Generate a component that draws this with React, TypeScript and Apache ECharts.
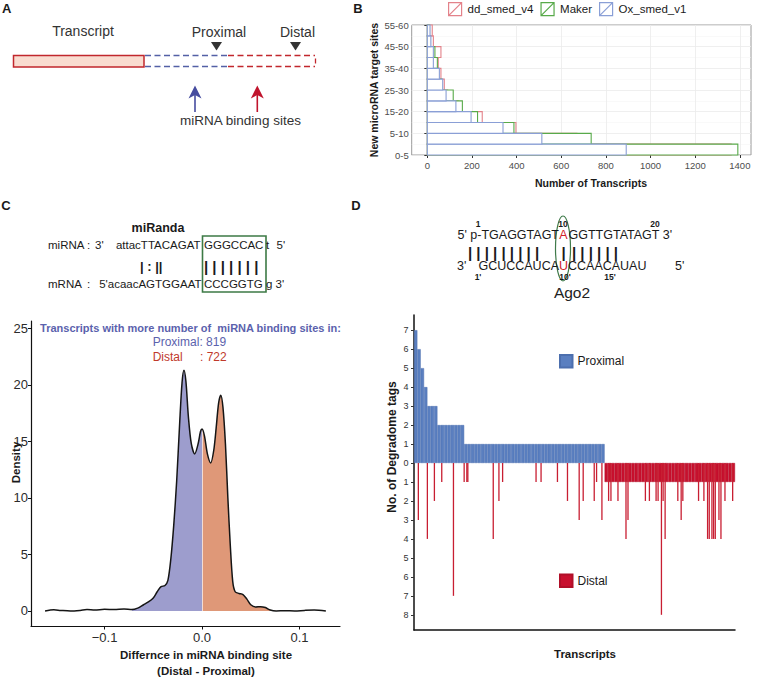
import React, { useEffect, useRef } from 'react';
import * as echarts from 'echarts';

const FONT = '"Liberation Sans", Arial, Helvetica, sans-serif';

// ---------- Panel B data ----------
const binLabels = ['0-5', '5-10', '15-20', '25-30', '35-40', '45-50', '55-60'];
const binIndex = [0, 1, 2, 3, 4, 5, 6, 7, 8, 9, 10, 11];
const ddSmedV4 = [1361, 670, 397, 246, 139, 91, 76, 61, 49, 61, 27, 22];
const maker = [1391, 734, 388, 225, 157, 116, 65, 50, 45, 34, 14, 10];
const oxSmedV1 = [891, 513, 339, 196, 128, 84, 69, 54, 27, 27, 16, 12];
const transcriptTicks = [0, 200, 400, 600, 800, 1000, 1200, 1400];

// ---------- Panel C data ----------
const densityX = [-0.161, -0.152, -0.145, -0.135, -0.125, -0.118, -0.11, -0.1, -0.09, -0.08, -0.072, -0.066, -0.06, -0.055, -0.05, -0.046, -0.042, -0.038, -0.035, -0.032, -0.029, -0.026, -0.023, -0.0205, -0.0185, -0.0165, -0.014, -0.011, -0.0075, -0.004, -0.0015, 0, 0.0025, 0.0055, 0.0089, 0.012, 0.0145, 0.017, 0.0192, 0.0215, 0.024, 0.0265, 0.029, 0.0315, 0.034, 0.038, 0.042, 0.046, 0.05, 0.055, 0.06, 0.065, 0.07, 0.076, 0.085, 0.095, 0.105, 0.115, 0.127];
const densityY = [0, 0.1, 0.05, 0, 0.05, 0.12, 0.08, 0.15, 0.12, 0.18, 0.12, 0.25, 0.55, 0.8, 1.15, 1.7, 2.15, 2.25, 2.7, 4.6, 7.6, 11.5, 16.5, 20.2, 21.3, 20.3, 17.2, 14.8, 13.9, 14.8, 15.9, 16.1, 15.5, 13.9, 13.1, 14.2, 16.2, 18.4, 19.1, 18.0, 14.8, 10.0, 5.8, 2.6, 1.7, 1.55, 1.45, 1.05, 0.55, 0.35, 0.38, 0.3, 0.08, 0, 0.02, 0, 0.05, 0.08, 0];
const densityTicksX = [-0.1, 0, 0.1];
const densityTicksY = [0, 5, 10, 15, 20, 25];
const proximalFillRange = [-0.072, 0];
const distalFillRange = [0, 0.076];

// ---------- Panel D data ----------
const proximalTags = [
  7, 6, 5, 4, 3, 3, 3, 2, 2, 2, 2, 2, 2, 2, 2,
  1, 1, 1, 1, 1, 1, 1, 1, 1, 1, 1, 1, 1, 1,
  1, 1, 1, 1, 1, 1, 1, 1, 1, 1, 1, 1, 1, 1,
  1, 1, 1, 1, 1, 1, 1, 1, 1, 1, 1, 1, 1, 1,
  0, 0, 0, 0, 0, 0, 0, 0, 0, 0, 0, 0, 0,
  0, 0, 0, 0, 0, 0, 0, 0, 0, 0, 0, 0, 0,
  0, 0, 0, 0, 0, 0, 0, 0, 0, 0, 0, 0, 0,
];
const distalTags = [
  0, 0, 0, 0, 0, 0, 0, 0, 0, 0, 0, 0, 0, 0, 0,
  0, 0, 0, 0, 0, 0, 0, 0, 0, 0, 0, 0, 0, 0,
  0, 0, 0, 0, 0, 0, 0, 0, 0, 0, 0, 0, 0, 0,
  0, 0, 0, 0, 0, 0, 0, 0, 0, 0, 0, 0, 0, 0,
  1, 1, 1, 1, 1, 1, 1, 1, 1, 1, 1, 1, 1,
  1, 1, 1, 1, 1, 1, 1, 1, 1, 1, 1, 1, 1,
  1, 1, 1, 1, 1, 1, 1, 1, 1, 1, 1, 1, 1,
];
const distalSpikePos = [1.3, 4.0, 6.1, 8.3, 11.8, 15.0, 15.8, 16.1, 23.7, 25.4, 26.5, 36.5, 38.0, 42.9, 45.9, 49.4, 50.6, 53.9, 54.6, 56.2,
  58.2, 58.9, 61.0, 63.4, 64.0, 69.2, 70.4, 72.4, 73.0, 74.0, 74.5, 75.1, 78.9, 79.9, 80.4, 85.1, 86.7, 87.8, 88.3, 89.1, 89.6, 90.1, 91.2, 91.8, 93.0, 95.3];
const distalSpikeTags = [3, 4, 2, 1, 7, 1, 1, 1, 4, 2, 1, 1, 1, 1, 2, 3, 2, 2, 1, 3,
  2, 2, 2, 4, 3, 2, 2, 2, 2, 8, 2, 4, 2, 3, 2, 2, 2, 4, 4, 4, 4, 4, 3, 4, 2, 2];
const degradomeTicks = [-8, -7, -6, -5, -4, -3, -2, -1, 0, 1, 2, 3, 4, 5, 6, 7];
const transcriptIds = proximalTags.map((_, i) => 'T' + (i + 1));

function txt(text: string, x: number, y: number, o: any = {}) {
  const align = o.align || 'left';
  return {
    type: 'text', x, y, rotation: o.rotation || 0, silent: true, z: 10,
    style: {
      text, fontFamily: FONT, fontSize: o.size || 12, fontWeight: o.bold ? 'bold' : 'normal',
      fill: o.color || '#1a1a1a', align, verticalAlign: 'middle', textAlign: align, textVerticalAlign: 'middle',
    },
  };
}

function buildOption() {
  const bSeriesDefs = [
    { name: 'dd_smed_v4', values: ddSmedV4, color: '#e3828a', z: 2 },
    { name: 'Maker', values: maker, color: '#58aa4a', z: 3 },
    { name: 'Ox_smed_v1', values: oxSmedV1, color: '#8a9fd6', z: 4 },
  ];
  const bSeries = bSeriesDefs.map((d) => ({
    type: 'custom', name: d.name, xAxisIndex: 0, yAxisIndex: 0, z: d.z, silent: true,
    itemStyle: { color: d.color, borderColor: d.color },
    encode: { x: 1, y: 0 },
    data: binIndex.map((b, i) => [b, d.values[i]]),
    renderItem: (params: any, api: any) => {
      const bin = api.value(0);
      const v = api.value(1);
      const tl = api.coord([0, bin + 1]);
      const br = api.coord([v, bin]);
      return {
        type: 'rect',
        shape: { x: tl[0], y: tl[1], width: br[0] - tl[0], height: br[1] - tl[1] },
        style: { fill: '#ffffff', stroke: d.color, lineWidth: 1.1 },
      };
    },
  }));

  const densityPts = densityX.map((x, i) => [x, densityY[i]]);
  const leftFill = densityPts.filter((p) => p[0] >= proximalFillRange[0] && p[0] <= proximalFillRange[1]);
  const rightFill = densityPts.filter((p) => p[0] >= distalFillRange[0] && p[0] <= distalFillRange[1]);
  const zeroIdx = densityX.indexOf(0);

  const fmtDiff = (v: number) => {
    const r = Math.round(v * 10) / 10;
    if (Math.abs(v - r) > 1e-9) return '';
    return r === 0 ? '0.0' : (r < 0 ? '\u2212' : '') + Math.abs(r).toFixed(1);
  };
  const intFmt = (v: number) => (Number.isInteger(v) ? String(v) : '');

  const graphics: any[] = [
    // ---- Panel A ----
    txt('A', 2, 8, { bold: true, size: 13 }),
    txt('Transcript', 83, 31, { size: 14, align: 'center', color: '#333' }),
    { type: 'rect', silent: true, shape: { x: 13.5, y: 55.5, width: 130.5, height: 11.5 }, style: { fill: '#f9dcd0', stroke: '#c1272d', lineWidth: 1.5 } },
    { type: 'line', silent: true, shape: { x1: 145, y1: 55.5, x2: 228, y2: 55.5 }, style: { stroke: '#5360a6', lineWidth: 1.3, lineDash: [6, 3.5] } },
    { type: 'line', silent: true, shape: { x1: 145, y1: 66.5, x2: 228, y2: 66.5 }, style: { stroke: '#5360a6', lineWidth: 1.3, lineDash: [6, 3.5] } },
    { type: 'line', silent: true, shape: { x1: 228, y1: 55.5, x2: 315, y2: 55.5 }, style: { stroke: '#c1272d', lineWidth: 1.3, lineDash: [6, 3.5] } },
    { type: 'line', silent: true, shape: { x1: 228, y1: 66.5, x2: 315, y2: 66.5 }, style: { stroke: '#c1272d', lineWidth: 1.3, lineDash: [6, 3.5] } },
    { type: 'line', silent: true, shape: { x1: 315.5, y1: 58.5, x2: 315.5, y2: 63.5 }, style: { stroke: '#c1272d', lineWidth: 1.3 } },
    { type: 'polygon', silent: true, shape: { points: [[211, 42], [222, 42], [216.5, 50.5]] }, style: { fill: '#333' } },
    { type: 'polygon', silent: true, shape: { points: [[290, 42], [301, 42], [295.5, 50.5]] }, style: { fill: '#333' } },
    txt('Proximal', 219, 31.5, { size: 14, align: 'center', color: '#333' }),
    txt('Distal', 297.5, 31.5, { size: 14, align: 'center', color: '#333' }),
    { type: 'line', silent: true, shape: { x1: 195, y1: 112, x2: 195, y2: 93 }, style: { stroke: '#464c9f', lineWidth: 1.6 } },
    { type: 'polygon', silent: true, shape: { points: [[195, 85.5], [201.5, 98.5], [195, 95], [188.5, 98.5]] }, style: { fill: '#464c9f' } },
    { type: 'line', silent: true, shape: { x1: 257.3, y1: 112, x2: 257.3, y2: 93 }, style: { stroke: '#c0142d', lineWidth: 1.6 } },
    { type: 'polygon', silent: true, shape: { points: [[257.3, 85.5], [263.8, 98.5], [257.3, 95], [250.8, 98.5]] }, style: { fill: '#c0142d' } },
    txt('miRNA binding sites', 240.5, 120, { size: 13.5, align: 'center', color: '#333' }),

    // ---- Panel B ----
    txt('B', 358, 8, { bold: true, size: 13, align: 'center' }),
    txt('New microRNA target sites', 373.5, 90, { bold: true, size: 10.5, align: 'center', rotation: Math.PI / 2 }),
    txt('Number of Transcripts', 591, 182.5, { bold: true, size: 10.5, align: 'center' }),

    // ---- Panel C ----
    txt('C', 6, 205, { bold: true, size: 13, align: 'center' }),
    txt('miRanda', 158, 228, { bold: true, size: 12.5, align: 'center' }),
    txt('miRNA :', 48, 245, { size: 11.5 }),
    txt("3'", 95, 245, { size: 11.5 }),
    txt('attacTTACAGAT', 200.5, 245, { size: 11.5, align: 'right' }),
    txt('GGGCCAC', 204, 245, { size: 11.5 }),
    txt('t', 266, 245, { size: 11.5 }),
    txt("5'", 276.5, 245, { size: 11.5 }),
    txt('| : ||', 140, 266, { size: 13, bold: true }),
    txt('| | | | | | |', 204, 266, { size: 15, bold: true }),
    txt('mRNA', 48, 284, { size: 11.5 }),
    txt(':', 87, 284, { size: 11.5 }),
    txt("5'acaacAGTGGAAT", 201.5, 284, { size: 11.5, align: 'right' }),
    txt('CCCGGTG', 204, 284, { size: 11.5 }),
    txt("g 3'", 266, 284, { size: 11.5 }),
    { type: 'rect', silent: true, shape: { x: 202.5, y: 236, width: 63.5, height: 56 }, style: { fill: 'none', stroke: '#3d7a45', lineWidth: 1.6 } },
    txt('Transcripts with more number of  miRNA binding sites in:', 190.5, 328, { bold: true, size: 11, align: 'center', color: '#5b62ad' }),
    txt('Proximal: 819', 152.7, 342, { size: 12, color: '#5b62ad' }),
    txt('Distal', 152.7, 356.5, { size: 12, color: '#c0392b' }),
    txt(': 722', 200, 356.5, { size: 12, color: '#c0392b' }),
    txt('Density', 16, 462.5, { bold: true, size: 11.5, align: 'center', rotation: Math.PI / 2 }),
    txt('Differnce in miRNA binding site', 206, 655, { bold: true, size: 11.5, align: 'center' }),
    txt('(Distal - Proximal)', 206, 671, { bold: true, size: 11.5, align: 'center' }),

    // ---- Panel D ----
    txt('D', 356, 205, { bold: true, size: 13, align: 'center' }),
    txt('1', 478, 224, { bold: true, size: 8.5, align: 'center' }),
    txt('10', 563, 224, { bold: true, size: 8.5, align: 'center' }),
    txt('20', 655, 224, { bold: true, size: 8.5, align: 'center' }),
    txt("5' p-TGAGGTAGT", 559, 235, { size: 12.5, align: 'right' }),
    txt('A', 563.5, 235, { size: 12.5, align: 'center', color: '#d0202a' }),
    txt("GGTTGTATAGT 3'", 568.5, 235, { size: 12.5 }),
    txt('| | | | | | | | |', 468, 252, { size: 15, bold: true }),
    txt('|', 563.5, 252, { size: 15, bold: true, align: 'center' }),
    txt('| | | | | |', 572, 252, { size: 15, bold: true }),
    txt("3'", 457, 266, { size: 12.5 }),
    txt('GCUCCAUCA', 559, 266, { size: 12.5, align: 'right' }),
    txt('U', 563.5, 266, { size: 12.5, align: 'center', color: '#d0202a' }),
    txt('CCAACAUAU', 568, 266, { size: 12.5 }),
    txt("5'", 675, 266, { size: 12.5 }),
    txt("1'", 478, 276.5, { bold: true, size: 8.5, align: 'center' }),
    txt("10'", 565, 276.5, { bold: true, size: 8.5, align: 'center' }),
    txt("15'", 610, 276.5, { bold: true, size: 8.5, align: 'center' }),
    { type: 'ellipse', silent: true, shape: { cx: 563, cy: 248.5, rx: 7.5, ry: 32.5 }, style: { fill: 'none', stroke: '#3f7a4a', lineWidth: 1.2 } },
    txt('Ago2', 572, 292, { size: 15.5, align: 'center', color: '#222' }),
    txt('No. of Degradome tags', 391.5, 447, { bold: true, size: 12, align: 'center', rotation: Math.PI / 2 }),
    txt('Transcripts', 585, 654, { bold: true, size: 11.5, align: 'center' }),
  ];

  return {
    animation: false,
    backgroundColor: '#ffffff',
    textStyle: { fontFamily: FONT },
    legend: [
      {
        data: ['dd_smed_v4', 'Maker', 'Ox_smed_v1'], left: 448, top: 2, padding: 0, itemWidth: 15, itemHeight: 13, itemGap: 7,
        selectedMode: false, icon: 'path://M0,0L20,0L20,20L0,20ZM0,20L20,0',
        itemStyle: { color: 'rgba(0,0,0,0)', borderColor: 'inherit', borderWidth: 1.2 },
        textStyle: { fontSize: 11.5, color: '#1a1a1a', fontFamily: FONT },
      },
      {
        data: ['Proximal'], left: 559, top: 354, padding: 0, itemWidth: 12.5, itemHeight: 12.5, selectedMode: false, icon: 'rect',
        textStyle: { fontSize: 12, color: '#1a1a1a', fontFamily: FONT },
      },
      {
        data: ['Distal'], left: 559, top: 573.5, padding: 0, itemWidth: 12.5, itemHeight: 12.5, selectedMode: false, icon: 'rect',
        textStyle: { fontSize: 12, color: '#1a1a1a', fontFamily: FONT },
      },
    ],
    grid: [
      { left: 411.7, top: 25, width: 339.3, height: 130, show: true, borderColor: '#9a9a9a', borderWidth: 1, backgroundColor: '#ffffff' },
      { left: 31, top: 321, width: 309, height: 305 },
      { left: 414, top: 315, width: 321, height: 315 },
    ],
    xAxis: [
      {
        gridIndex: 0, type: 'value', min: -70, max: 1450, splitNumber: 8,
        axisLine: { show: false },
        axisTick: { show: true, length: 3, lineStyle: { color: '#333' }, customValues: transcriptTicks },
        axisLabel: { customValues: transcriptTicks, fontSize: 9.5, color: '#4d4d4d', margin: 5.5, formatter: (v: number) => (v % 200 === 0 && v >= 0 ? String(v) : '') },
        splitLine: { show: true, lineStyle: { color: '#ebebeb', width: 0.8 } },
      },
      {
        gridIndex: 1, type: 'value', min: -0.1754, max: 0.1415, splitNumber: 3,
        axisLine: { show: true, onZero: false, lineStyle: { color: '#111', width: 1.2 } },
        axisTick: { show: true, length: 3.5, lineStyle: { color: '#111' }, customValues: densityTicksX },
        axisLabel: { customValues: densityTicksX, fontSize: 13, color: '#2b2b2b', margin: 4.5, formatter: fmtDiff },
        splitLine: { show: false },
      },
      {
        gridIndex: 2, type: 'category', data: transcriptIds, boundaryGap: true,
        axisLine: { show: true, onZero: false, lineStyle: { color: '#111', width: 1.5 } },
        axisTick: { show: false }, axisLabel: { show: false }, splitLine: { show: false },
      },
      { gridIndex: 2, type: 'value', min: 0, max: transcriptIds.length, show: false, splitLine: { show: false } },
    ],
    yAxis: [
      {
        gridIndex: 0, type: 'value', min: 0, max: 12, interval: 2,
        axisLine: { show: false },
        axisTick: { show: true, length: 3, lineStyle: { color: '#333' } },
        axisLabel: { fontSize: 9.5, color: '#4d4d4d', margin: 3, formatter: (v: number) => binLabels[v / 2] ?? '' },
        splitLine: { show: true, lineStyle: { color: '#ebebeb', width: 0.8 } },
        minorTick: { show: false, splitNumber: 2 },
        minorSplitLine: { show: true, lineStyle: { color: '#f3f3f3', width: 0.5 } },
      },
      {
        gridIndex: 1, type: 'value', min: -1.33, max: 25.66, splitNumber: 5,
        axisLine: { show: true, onZero: false, lineStyle: { color: '#111', width: 1.2 } },
        axisTick: { show: true, length: 3, lineStyle: { color: '#111' }, customValues: densityTicksY },
        axisLabel: { customValues: densityTicksY, fontSize: 13, color: '#2b2b2b', margin: 3, formatter: intFmt },
        splitLine: { show: false },
      },
      {
        gridIndex: 2, type: 'value', min: -8.8, max: 7.8, splitNumber: 16,
        axisLine: { show: true, onZero: false, lineStyle: { color: '#111', width: 1.5 } },
        axisTick: { show: true, length: 3, lineStyle: { color: '#333' }, customValues: degradomeTicks },
        axisLabel: { customValues: degradomeTicks, fontSize: 9, color: '#333', margin: 5.5, formatter: (v: number) => (Number.isInteger(v) ? String(Math.abs(v)) : '') },
        splitLine: { show: false },
      },
    ],
    series: [
      ...bSeries,
      {
        type: 'line', name: 'Proximal fill', xAxisIndex: 1, yAxisIndex: 1, data: leftFill, smooth: 0.3, symbol: 'none', silent: true, z: 2,
        lineStyle: { width: 0, opacity: 0 }, areaStyle: { color: '#9d9dcd', opacity: 1 },
        markLine: {
          silent: true, symbol: 'none', label: { show: false },
          lineStyle: { color: '#f2dcd4', width: 1, type: 'solid' },
          data: [[{ coord: [0, 0] }, { coord: [0, densityY[zeroIdx]] }]],
        },
      },
      {
        type: 'line', name: 'Distal fill', xAxisIndex: 1, yAxisIndex: 1, data: rightFill, smooth: 0.3, symbol: 'none', silent: true, z: 2,
        lineStyle: { width: 0, opacity: 0 }, areaStyle: { color: '#df9878', opacity: 1 },
      },
      {
        type: 'line', name: 'Density', xAxisIndex: 1, yAxisIndex: 1, data: densityPts, smooth: 0.3, symbol: 'none', silent: true, z: 5,
        lineStyle: { color: '#151515', width: 1.5 },
      },
      {
        type: 'bar', name: 'Proximal', xAxisIndex: 2, yAxisIndex: 2, barWidth: '100%', barGap: '-100%', silent: true,
        data: proximalTags.map((v) => (v === 0 ? '-' : v)),
        itemStyle: { color: '#5a7fc0', borderColor: '#4c6fae', borderWidth: 0.5 },
      },
      {
        type: 'bar', name: 'Distal', xAxisIndex: 2, yAxisIndex: 2, barWidth: '100%', barGap: '-100%', silent: true,
        data: distalTags.map((v) => (v === 0 ? '-' : -v)),
        itemStyle: { color: '#c8102e', borderColor: '#b00f28', borderWidth: 0.5 },
      },
      {
        type: 'bar', name: 'Distal', xAxisIndex: 3, yAxisIndex: 2, barWidth: 1.3, silent: true, z: 3,
        data: distalSpikePos.map((p, i) => [p, -distalSpikeTags[i]]),
        itemStyle: { color: '#c81e32' },
      },
    ],
    graphic: graphics,
  };
}

export default function App() {
  const ref = useRef<HTMLDivElement>(null);
  useEffect(() => {
    if (!ref.current) return;
    const chart = echarts.init(ref.current, undefined, { renderer: 'svg' });
    chart.setOption(buildOption() as any);
    return () => chart.dispose();
  }, []);
  return (
    <div
      ref={ref}
      style={{ position: 'fixed', left: 0, top: 0, width: 757, height: 677, background: '#ffffff' }}
    />
  );
}
